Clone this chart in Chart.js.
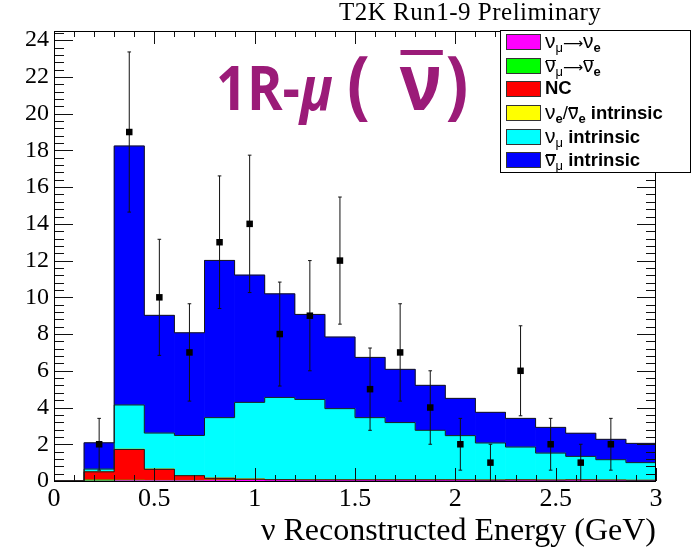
<!DOCTYPE html>
<html>
<head>
<meta charset="utf-8">
<script src="https://cdn.jsdelivr.net/npm/chart.js@4.4.1/dist/chart.umd.min.js"></script>
<style>
  html, body { margin: 0; padding: 0; background: #fff; }
  #wrap { position: relative; width: 691px; height: 552px; overflow: hidden; }
  #plot { position: absolute; left: 0; top: 0; }
  #runTitle {
    position: absolute; left: 339px; top: -1px; white-space: nowrap;
    font-family: "Liberation Serif", serif; font-size: 25px; line-height: 25px;
    letter-spacing: 0.5px; color: #000;
  }
  #sample {
    position: absolute; left: 216px; top: 26px; white-space: nowrap;
    font-family: "Open Sans", sans-serif; font-weight: 700; font-size: 60px;
    color: #9b1b78; transform: scaleX(0.9); transform-origin: 0 0;
  }
  #sample i { font-style: italic; }
  #sample .big { font-size: 75px; }
  #sample .nubar { position: relative; font-size: 79px; margin-left: 33px; margin-right: 4px; }
  #sample .nubar::before {
    content: ""; position: absolute; left: 1px; right: -1px; top: 24px; height: 5px;
    background: #9b1b78;
  }
  #legend {
    position: absolute; left: 500px; top: 30px; width: 191px; height: 143px;
    box-sizing: border-box; border: 1px solid #000; background: #fff;
    font-family: "Liberation Sans", Arial, sans-serif; font-size: 18.5px; color: #000;
  }
  #legend .row { position: absolute; left: 5px; height: 16px; white-space: nowrap; }
  #legend .sw {
    position: absolute; left: 0; top: 0; width: 35px; height: 16px;
    box-sizing: border-box; border: 1px solid #333;
  }
  #legend .lt { position: absolute; left: 39px; top: -4px; line-height: 22px; }
  #legend .lt b { font-weight: 700; }
  #legend sub { font-size: 13px; vertical-align: -4px; line-height: 0; }
  #legend sub.e { font-weight: 700; }
  #legend .g { font-size: 21px; }
  #legend .arr { font-family: "DejaVu Sans", sans-serif; font-size: 14px; }
  #legend .ob { position: relative; }
  #legend .ob::before {
    content: ""; position: absolute; left: 1px; right: 0; top: 5px; height: 1.5px;
    background: #000;
  }
</style>
</head>
<body>
<div id="wrap">
  <canvas id="plot" width="691" height="552"></canvas>
  <div id="runTitle">T2K Run1-9 Preliminary</div>
  <div id="sample">1R-<i>μ</i> <span class="big">(<span class="nubar">ν</span>)</span></div>
  <div id="legend"></div>
</div>
<script>
// Reconstructed-energy bins (lower edges, GeV); every bin is 0.15 GeV wide.
const binLow = [0.00, 0.15, 0.30, 0.45, 0.60, 0.75, 0.90, 1.05, 1.20, 1.35,
                1.50, 1.65, 1.80, 1.95, 2.10, 2.25, 2.40, 2.55, 2.70, 2.85];
const binWidth = 0.15;

// Predicted events per bin, one array per stacked component (bottom to top).
const oscNuMuToNuE     = [0, 0.00, 0.02, 0.02, 0.02, 0.03, 0.04, 0.04, 0.04, 0.04,
                          0.04, 0.04, 0.04, 0.04, 0.03, 0.03, 0.03, 0.03, 0.03, 0.02];
const oscNuMuBarToNuEBar = [0, 0.06, 0.03, 0.02, 0.02, 0.02, 0.01, 0.01, 0.01, 0.01,
                          0.01, 0.01, 0.01, 0.01, 0.01, 0.01, 0.01, 0.01, 0.01, 0.01];
const neutralCurrent   = [0, 0.44, 1.67, 0.60, 0.25, 0.10, 0.05, 0.02, 0.01, 0.01,
                          0.01, 0.01, 0.01, 0.01, 0.01, 0.02, 0.01, 0.02, 0.01, 0.01];
const nueIntrinsic     = [0, 0.01, 0.02, 0.02, 0.02, 0.02, 0.02, 0.02, 0.02, 0.01,
                          0.01, 0.01, 0.01, 0.01, 0.01, 0.01, 0.01, 0.01, 0.01, 0.01];
const numuIntrinsic    = [0, 0.14, 2.40, 1.95, 2.17, 3.28, 4.16, 4.46, 4.36, 3.87,
                          3.38, 3.11, 2.69, 2.40, 2.01, 1.78, 1.46, 1.27, 1.10, 0.95];
const numubarIntrinsic = [0, 1.43, 14.10, 6.41, 5.59, 8.56, 6.93, 5.64, 4.63, 3.90,
                          3.28, 2.90, 2.45, 2.03, 1.67, 1.56, 1.40, 1.26, 1.11, 1.05];

// Observed events per bin and their errors (null = no entry drawn).
const dataCounts = [null, 2, 19, 10, 7, 13, 14, 8, 9, 12, 5, 7, 4, 2, 1, 6, 2, 1, 2, null];
const dataErrors = [null, 1.41, 4.36, 3.16, 2.65, 3.61, 3.74, 2.83, 3.00, 3.46,
                    2.24, 2.65, 2.00, 1.41, 1.00, 2.45, 1.41, 1.00, 1.41, null];

// Axis tick labels.
const xTickValues = [0, 0.5, 1, 1.5, 2, 2.5, 3];
const xTickLabels = ['0', '0.5', '1', '1.5', '2', '2.5', '3'];
const yTickValues = [0, 2, 4, 6, 8, 10, 12, 14, 16, 18, 20, 22, 24];

const layers = [
  { values: oscNuMuToNuE,       color: '#ff00ff', outline: false,
    legend: 'ν<sub>μ</sub><span class="arr">⟶</span>ν<sub class="e">e</sub>' },
  { values: oscNuMuBarToNuEBar, color: '#00ff00', outline: false,
    legend: '<span class="ob">ν</span><sub>μ</sub><span class="arr">⟶</span><span class="ob">ν</span><sub class="e">e</sub>' },
  { values: neutralCurrent,     color: '#ff0000', outline: true,
    legend: '<b>NC</b>' },
  { values: nueIntrinsic,       color: '#ffff00', outline: false,
    legend: 'ν<sub class="e">e</sub>/<span class="ob">ν</span><sub class="e">e</sub> <b>intrinsic</b>' },
  { values: numuIntrinsic,      color: '#00ffff', outline: true,
    legend: 'ν<sub>μ</sub> <b>intrinsic</b>' },
  { values: numubarIntrinsic,   color: '#0000ff', outline: true,
    legend: '<span class="ob">ν</span><sub>μ</sub> <b>intrinsic</b>' }
];

// Stacked fills
const datasets = layers.map(l => ({
  type: 'bar', xAxisID: 'xc', yAxisID: 'y', order: 3, grouped: false,
  data: l.values, backgroundColor: l.color, borderWidth: 0,
  barPercentage: 1, categoryPercentage: 1
}));

// Histogram step outlines on top of selected stack levels
const running = binLow.map(() => 0);
layers.forEach(l => {
  l.values.forEach((v, i) => { running[i] += v; });
  if (!l.outline) return;
  const pts = binLow.map((x, i) => ({ x: x, y: running[i] }));
  pts.push({ x: binLow[binLow.length - 1] + binWidth, y: running[running.length - 1] });
  pts.push({ x: binLow[binLow.length - 1] + binWidth, y: 0 });
  datasets.push({
    type: 'line', xAxisID: 'x', yAxisID: 'yl', order: 2,
    data: pts, stepped: 'before', borderColor: '#1a1a1a', borderWidth: 1,
    pointRadius: 0, fill: false
  });
});

// Data error bars (segments separated by gaps) and markers
const errPts = [];
const markPts = [];
const cap = 0.009;
dataCounts.forEach((n, i) => {
  if (n === null) return;
  const c = binLow[i] + binWidth / 2;
  const lo = Math.max(0, n - dataErrors[i]);
  const hi = n + dataErrors[i];
  errPts.push({ x: c, y: lo }, { x: c, y: hi }, { x: c, y: null });
  errPts.push({ x: c - cap, y: hi }, { x: c + cap, y: hi }, { x: c, y: null });
  if (lo > 0) errPts.push({ x: c - cap, y: lo }, { x: c + cap, y: lo }, { x: c, y: null });
  markPts.push({ x: c, y: n });
});
datasets.push({
  type: 'line', xAxisID: 'x', yAxisID: 'yl', order: 1,
  data: errPts, borderColor: '#111', borderWidth: 1, pointRadius: 0,
  spanGaps: false, fill: false
});
datasets.push({
  type: 'scatter', xAxisID: 'x', yAxisID: 'yl', order: 0,
  data: markPts, pointStyle: 'rect', pointRadius: 4.6,
  backgroundColor: '#000', borderWidth: 0
});

// Frame with inward ROOT-style ticks on all four sides
const frameTicks = {
  id: 'frameTicks',
  afterDatasetsDraw(chart) {
    const { ctx, chartArea: a, scales } = chart;
    const sx = scales.x, sy = scales.y;
    ctx.save();
    ctx.strokeStyle = '#111';
    ctx.lineWidth = 1;
    ctx.beginPath();
    for (let k = 0; k < xTickValues.length; k++) {
      const v0 = xTickValues[k];
      const step = k + 1 < xTickValues.length ? (xTickValues[k + 1] - v0) / 5 : 0;
      const n = step ? 5 : 1;
      for (let j = 0; j < n; j++) {
        const px = Math.round(sx.getPixelForValue(v0 + j * step)) + 0.5;
        const len = j === 0 ? 13 : 6;
        ctx.moveTo(px, a.bottom); ctx.lineTo(px, a.bottom - len);
        ctx.moveTo(px, a.top); ctx.lineTo(px, a.top + len);
      }
    }
    for (let k = 0; k < yTickValues.length; k++) {
      const v0 = yTickValues[k];
      const step = (k + 1 < yTickValues.length ? yTickValues[k + 1] - v0 : yTickValues[k] - yTickValues[k - 1]) / 5;
      for (let j = 0; j < 5; j++) {
        const v = v0 + j * step;
        if (v > sy.max) break;
        const py = Math.round(sy.getPixelForValue(v)) + 0.5;
        const len = j === 0 ? 19 : 10;
        ctx.moveTo(a.left, py); ctx.lineTo(a.left + len, py);
        ctx.moveTo(a.right, py); ctx.lineTo(a.right - len, py);
      }
    }
    ctx.stroke();
    ctx.strokeStyle = '#000';
    ctx.strokeRect(a.left + 0.5, a.top + 0.5, a.right - a.left - 1, a.bottom - a.top);
    ctx.restore();
  }
};

Chart.defaults.font.family = '"Liberation Serif", serif';
Chart.defaults.color = '#000';

new Chart(document.getElementById('plot'), {
  type: 'bar',
  data: { labels: binLow.map(String), datasets: datasets },
  options: {
    responsive: false,
    devicePixelRatio: 1,
    animation: false,
    layout: { padding: { top: 31, right: 35, left: 0, bottom: 0 } },
    plugins: { legend: { display: false }, tooltip: { enabled: false }, title: { display: false } },
    scales: {
      xc: { type: 'category', display: false, offset: true, stacked: true },
      x: {
        type: 'linear', position: 'bottom', min: 0, max: 3, offset: false,
        afterBuildTicks: s => { s.ticks = xTickValues.map(v => ({ value: v })); },
        ticks: {
          font: { size: 26 }, padding: 3, maxRotation: 0, autoSkip: false,
          callback: (v) => xTickLabels[xTickValues.indexOf(v)]
        },
        grid: { display: false, drawTicks: false, offset: false },
        border: { display: false },
        title: {
          display: true, text: 'ν Reconstructed Energy (GeV)', align: 'end',
          font: { size: 32 }, padding: { top: 0, bottom: 1 }
        },
        afterFit: s => { s.height = 71; }
      },
      y: {
        type: 'linear', position: 'left', min: 0, max: 24.5, stacked: true,
        afterBuildTicks: s => { s.ticks = yTickValues.map(v => ({ value: v })); },
        ticks: { font: { size: 24 }, padding: 5 },
        grid: { display: false, drawTicks: false },
        border: { display: false },
        afterFit: s => { s.width = 54; }
      },
      yl: { type: 'linear', display: false, min: 0, max: 24.5, offset: false }
    }
  },
  plugins: [frameTicks]
});

// Legend boxes built from the same layer list
const legendEl = document.getElementById('legend');
layers.forEach((l, i) => {
  const row = document.createElement('div');
  row.className = 'row';
  row.style.top = (3 + i * 23.67) + 'px';
  const label = l.legend.replace(/ν/g, '<span class="g">ν</span>');
  row.innerHTML = '<span class="sw" style="background:' + l.color + '"></span>' +
                  '<span class="lt">' + label + '</span>';
  legendEl.appendChild(row);
});
</script>
</body>
</html>
